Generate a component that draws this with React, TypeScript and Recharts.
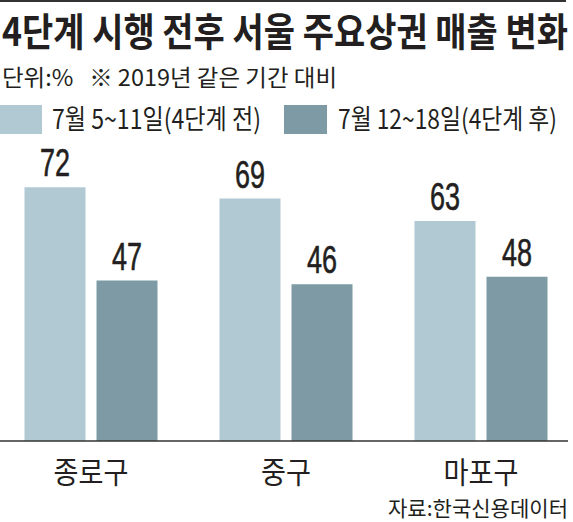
import { BarChart, Bar, XAxis, YAxis, LabelList } from "recharts"

const categories = ["종로구", "중구", "마포구"]
const beforeValues = [72, 69, 63]
const afterValues = [47, 46, 48]
const seriesNames = ["7월 5~11일(4단계 전)", "7월 12~18일(4단계 후)"]
const title = "4단계 시행 전후 서울 주요상권 매출 변화"
const unitNote = "단위:%   ※ 2019년 같은 기간 대비"
const source = "자료:한국신용데이터"

const data = categories.map((name, i) => ({
  name,
  before: beforeValues[i],
  after: afterValues[i],
}))

const LIGHT = "#b0c9d3"
const DARK = "#7e9ba5"
const INK = "#231f20"
const KR = '"Noto Sans CJK KR", "Noto Sans", sans-serif'

// narrow newspaper type: squeeze glyphs with textLength
function ValueLabel(props: any) {
  const { x, y, width, value } = props
  const s = String(value)
  return (
    <text
      x={x + width / 2}
      y={y - 11}
      textAnchor="middle"
      fontFamily="'Liberation Sans', Arial, sans-serif"
      fontSize={38}
      fill={INK}
      stroke={INK}
      strokeWidth={0.6}
      textLength={15 * s.length}
      lengthAdjust="spacingAndGlyphs"
    >
      {s}
    </text>
  )
}

function CategoryTick(props: any) {
  const { x, y, payload } = props
  const label = String(payload.value)
  return (
    <text
      x={x}
      y={y + 40}
      textAnchor="middle"
      fontFamily={KR}
      fontSize={30}
      fill={INK}
      textLength={25 * label.length}
      lengthAdjust="spacingAndGlyphs"
    >
      {label}
    </text>
  )
}

export default function App() {
  return (
    <div
      style={{
        position: "absolute",
        left: 0,
        top: 0,
        width: 573,
        height: 522,
        overflow: "hidden",
        background: "#fff",
      }}
    >
      <BarChart
        width={573}
        height={522}
        data={data}
        margin={{ top: 157.5, right: 5, bottom: 41, left: 0 }}
        barSize={61}
        barGap={11}
        style={{ position: "absolute", left: 0, top: 0 }}
      >
        <XAxis
          dataKey="name"
          height={40}
          axisLine={{ stroke: "#333", strokeWidth: 1.5 }}
          tickLine={false}
          tickSize={0}
          tick={<CategoryTick />}
          interval={0}
          padding={{ left: -6.5, right: -10.5 }}
        />
        <YAxis hide domain={[4, 80]} allowDataOverflow />
        <Bar dataKey="before" fill={LIGHT} isAnimationActive={false}>
          <LabelList dataKey="before" content={<ValueLabel />} />
        </Bar>
        <Bar dataKey="after" fill={DARK} isAnimationActive={false}>
          <LabelList dataKey="after" content={<ValueLabel />} />
        </Bar>
      </BarChart>

      <svg
        width={573}
        height={522}
        style={{ position: "absolute", left: 0, top: 0, pointerEvents: "none" }}
      >
        <rect x={0} y={0} width={566} height={2} fill="#333" />
        <text
          x={2}
          y={46}
          fontFamily={KR}
          fontWeight={700}
          fontSize={39}
          fill={INK}
          textLength={566}
          lengthAdjust="spacingAndGlyphs"
        >
          {title}
        </text>
        <text
          x={2}
          y={86}
          fontFamily={KR}
          fontSize={23}
          fill={INK}
          textLength={335}
          lengthAdjust="spacingAndGlyphs"
          style={{ whiteSpace: "pre" }}
        >
          {unitNote}
        </text>

        <rect x={0} y={105} width={42} height={29} fill={LIGHT} />
        <text
          x={52}
          y={129}
          fontFamily={KR}
          fontSize={27}
          fill={INK}
          textLength={209}
          lengthAdjust="spacingAndGlyphs"
        >
          {seriesNames[0]}
        </text>
        <rect x={284} y={105} width={43} height={29} fill={DARK} />
        <text
          x={338}
          y={129}
          fontFamily={KR}
          fontSize={27}
          fill={INK}
          textLength={219}
          lengthAdjust="spacingAndGlyphs"
        >
          {seriesNames[1]}
        </text>

        <text
          x={388}
          y={516}
          fontFamily={KR}
          fontSize={21}
          fill={INK}
          textLength={180}
          lengthAdjust="spacingAndGlyphs"
        >
          {source}
        </text>
      </svg>
    </div>
  )
}
